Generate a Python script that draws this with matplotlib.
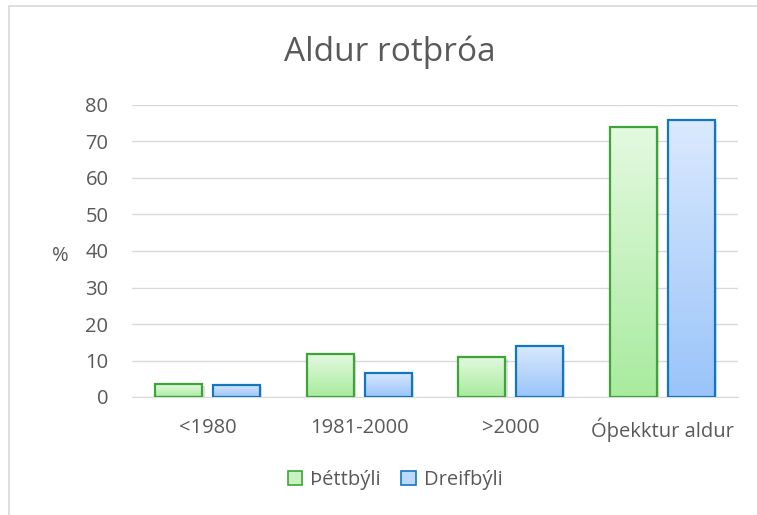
import matplotlib
matplotlib.use("Agg")
import matplotlib.pyplot as plt
import numpy as np
from matplotlib.patches import Patch, Rectangle
from matplotlib.colors import LinearSegmentedColormap
import matplotlib.patheffects as pe

categories = ["<1980", "1981-2000", ">2000", "Óþekktur aldur"]
series_names = ["Þéttbýli", "Dreifbýli"]
thettbyli = [3.5, 11.7, 11.0, 73.9]
dreifbyli = [3.3, 6.7, 14.1, 76.0]
yticks = [0, 10, 20, 30, 40, 50, 60, 70, 80]

plt.rcParams['font.family'] = ['Open Sans', 'DejaVu Sans']
txt = '#595959'
fs = 14.5

fig = plt.figure(figsize=(7.57, 5.15), dpi=100)
# outer chart border
fig.patches.append(Rectangle((9/757, -0.02), 1.05, 1 - 6/515 + 0.02, transform=fig.transFigure,
                             fill=False, edgecolor='#d9d9d9', linewidth=1.2))
ax = fig.add_axes([132/757, 1-397/515, (738-132)/757, (397-105)/515])

x = np.arange(len(categories))
w = 0.31
gap = 0.07
styles = [
    (thettbyli, '#e4f9e0', '#a8eb9e', '#3da535', -(w+gap)/2),
    (dreifbyli, '#dbe9fd', '#99c4fa', '#1177c1', (w+gap)/2),
]
for vals, ctop, cbot, edge, off in styles:
    cmap = LinearSegmentedColormap.from_list('g', [cbot, ctop])
    grad = np.linspace(0, 1, 256).reshape(-1, 1)
    shadow = ax.bar(x + off, vals, w, color='white', edgecolor='none', zorder=2)
    for b in shadow:
        b.set_path_effects([pe.SimplePatchShadow(offset=(1.5, -1.5), shadow_rgbFace='#000000', alpha=0.12),
                            pe.Normal()])
    for xi, v in zip(x + off, vals):
        ax.imshow(grad, cmap=cmap, origin='lower', aspect='auto',
                  extent=(xi - w/2, xi + w/2, 0, v), zorder=2.5, interpolation='bilinear')
    ax.bar(x + off, vals, w, facecolor='none', edgecolor=edge, linewidth=1.6, zorder=3)

ax.set_xlim(-0.5, len(categories) - 0.5)
ax.set_ylim(0, 80)
ax.set_yticks(yticks)
ax.set_xticks(x)
ax.set_xticklabels(categories)
ax.tick_params(axis='both', length=0, labelsize=fs, colors=txt)
ax.tick_params(axis='y', pad=17)
ax.tick_params(axis='x', pad=15)
ax.grid(axis='y', color='#d9d9d9', linewidth=1)
ax.set_axisbelow(True)
for s in ['top', 'right', 'left']:
    ax.spines[s].set_visible(False)
ax.spines['bottom'].set_color('#d9d9d9')
ax.spines['bottom'].set_zorder(1.5)

fig.text(60/757, 1-256/515, '%', ha='center', va='center', fontsize=fs, color=txt)
fig.text(390/757, 1-61/515, 'Aldur rotþróa', ha='center', va='baseline', fontsize=24, color=txt)

handles = [Patch(facecolor='#c8f2c1', edgecolor='#3da535', linewidth=1.2),
           Patch(facecolor='#bcd8fc', edgecolor='#1177c1', linewidth=1.2)]
fig.legend(handles, series_names, loc='center', bbox_to_anchor=(395/757, 1-480/515), ncol=2,
           frameon=False, fontsize=fs, labelcolor=txt, handlelength=0.72, handleheight=0.72,
           handletextpad=0.4, columnspacing=1.0)

fig.savefig('out.png', dpi=100)
